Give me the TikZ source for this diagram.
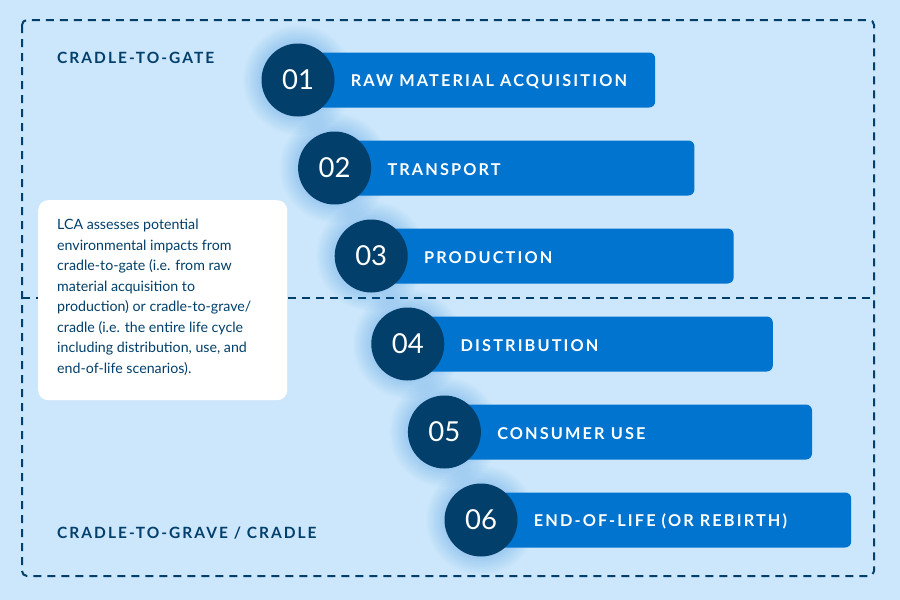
\documentclass[tikz,border=0pt]{standalone}
\usepackage{fontspec}
\setmainfont{Lato}
\newfontfamily\capsfont[LetterSpace=13]{Lato}
\usetikzlibrary{positioning}

\definecolor{bgblue}{HTML}{CCE7FC}
\definecolor{navy}{HTML}{023F6A}
\definecolor{barblue}{HTML}{0074CF}

\begin{document}
\begin{tikzpicture}[x=1pt,y=-1pt,
    stepbar/.style={fill=barblue,rounded corners=6pt,minimum height=55pt,anchor=west,inner sep=0pt},
    stepdot/.style={circle,fill=navy,minimum size=73pt,inner sep=0pt,text=white,font=\fontsize{27.5}{27.5}\selectfont},
    steptext/.style={text=white,font=\capsfont\bfseries\fontsize{16.3}{16.3}\selectfont,inner sep=0pt,yshift=-1.5pt},
    border/.style={navy,line width=2pt,dash pattern=on 8pt off 6pt},
    phase/.style={anchor=west,text=navy,font=\capsfont\bfseries\fontsize{15.5}{15.5}\selectfont,inner sep=0pt}]

    % Background
    \fill[bgblue] (0,0) rectangle (900,600);
    \useasboundingbox (0,0) rectangle (900,600);

    % Dashed frame and split line
    \draw[border,rounded corners=5pt] (22,20) rectangle (874,576);
    \coordinate (splitL) at (22,298);
    \coordinate (splitR) at (874,298);
    \draw[border] (splitL) -- (splitR);

    % Phase labels
    \node[phase] (gate) at (57,58) {CRADLE-TO-GATE};
    \node[phase] (grave) at (57,533) {CRADLE-TO-GRAVE / CRADLE};

    % Note box
    \node[fill=white,rounded corners=10pt,minimum width=249pt,minimum height=200pt,anchor=north west,inner sep=0pt] (notebox) at (38,200) {};
    \node[anchor=north west,align=left,text=navy,font=\fontsize{14.2}{20.5}\selectfont,inner sep=0pt] (note) at (57,219)
        {LCA assesses potential\\
         environmental impacts from\\
         cradle-to-gate (i.e. from raw\\
         material acquisition to\\
         production) or cradle-to-grave/\\
         cradle (i.e. the entire life cycle\\
         including distribution, use, and\\
         end-of-life scenarios).};

    % Steps
    \foreach \n/\lbl [count=\i from 0] in {01/RAW MATERIAL ACQUISITION,02/TRANSPORT,03/PRODUCTION,
        04/DISTRIBUTION,05/CONSUMER USE,06/END-OF-LIFE (OR REBIRTH)}{
        \pgfmathsetmacro{\cx}{298+36.6*\i}
        \pgfmathsetmacro{\cy}{80+88*\i}
        \pgfmathsetmacro{\bw}{357+2.6*\i}
        \coordinate (c\n) at (\cx,\cy);
        % soft glow
        \foreach \r in {37,39,...,55}
            \fill[barblue,opacity=0.025] (c\n) circle (\r);
        \node[stepbar,minimum width=\bw pt] (bar\n) at (c\n) {};
        \node[stepdot] (dot\n) at (c\n) {\n};
        \node[steptext,right=16pt of dot\n] (label\n) {\lbl};
    }
\end{tikzpicture}
\end{document}
